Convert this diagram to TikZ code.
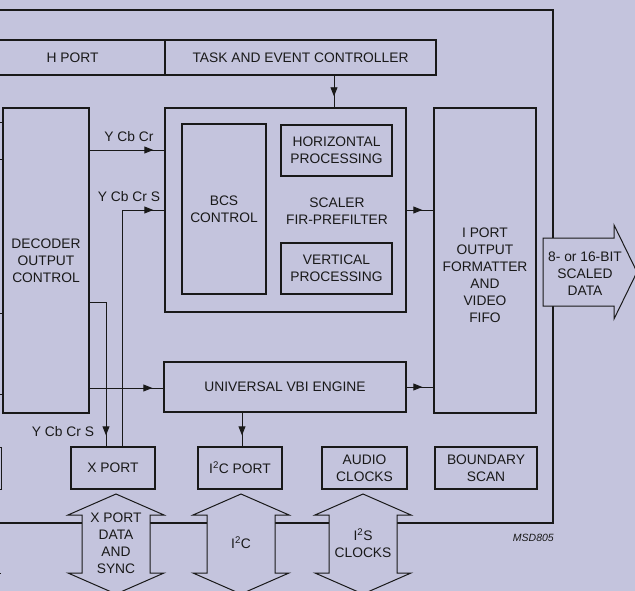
\documentclass[tikz,border=0pt]{standalone}
\usepackage{fontspec}
\setmainfont{Liberation Sans}
\usepackage{tikz}
\usetikzlibrary{arrows.meta,decorations.markings}
\definecolor{panel}{RGB}{196,196,221}
\definecolor{ink}{RGB}{25,25,25}
\tikzset{
	blk/.style={draw=ink, line width=1.4pt, fill=panel, inner sep=0pt, align=center, text=ink},
	wire/.style={draw=ink, line width=0.9pt},
	flow/.style={wire, postaction={decorate}, decoration={markings, mark=at position -11pt with {\arrow{Triangle[length=9pt,width=7pt]}}}},
	bus/.style={draw=ink, line width=1pt, fill=panel},
	txt/.style={align=center, text=ink, inner sep=0pt},
}
\begin{document}
\begin{tikzpicture}[x=1pt, y=-1pt, font=\fontsize{13.8}{17}\selectfont]
	%\draw[help lines, step=50] (0,0) grid (635,591);
	\useasboundingbox (0,0) rectangle (635,591);
	\fill[panel] (0,0) rectangle (635,591);
	\clip (0,0) rectangle (635,591);
	\draw[line width=1.4pt, draw=ink] (-5,10) -| (553,523) -- (-5,523);
	\draw[line width=1pt, draw=ink] (-60,447) rectangle (1,489);
	\draw[line width=1pt, draw=ink] (-20,573) -- (1,573);
	% top row
	\node[blk, minimum width=185, minimum height=35] (hport) at (72.5,57.5) {H PORT};
	\node[blk, minimum width=271, minimum height=35] (task) at (300.5,57.5) {TASK AND EVENT CONTROLLER};
	% middle
	\node[blk, minimum width=86, minimum height=305] (deco) at (46,260.5) {DECODER\\OUTPUT\\CONTROL};
	\node[blk, minimum width=241, minimum height=204] (scaler) at (285.5,210) {};
	\node[blk, minimum width=84, minimum height=170] (bcs) at (224,209) {BCS\\CONTROL};
	\node[blk, minimum width=111, minimum height=51] (horiz) at (336.5,150.5) {HORIZONTAL\\PROCESSING};
	\node[blk, minimum width=111, minimum height=51] (vert) at (336.5,268.5) {VERTICAL\\PROCESSING};
	\node[txt] (scalertxt) at (337,211) {SCALER\\FIR-PREFILTER};
	\node[blk, minimum width=102, minimum height=305] (iport) at (485,260.5) {};
	\node[txt] (iporttxt) at (485,275) {I PORT\\OUTPUT\\FORMATTER\\AND\\VIDEO\\FIFO};
	\node[blk, minimum width=242, minimum height=50] (vbi) at (285,387) {UNIVERSAL VBI ENGINE};
	% bottom row
	\node[blk, minimum width=84, minimum height=42] (xport) at (113,468) {X PORT};
	\node[blk, minimum width=84, minimum height=42] (i2cport) at (240,468) {I\textsuperscript{2}C PORT};
	\node[blk, minimum width=85, minimum height=42] (audio) at (364.5,468) {AUDIO\\CLOCKS};
	\node[blk, minimum width=102, minimum height=42] (bscan) at (486,468) {BOUNDARY\\SCAN};
	% connectors
	\foreach \yy in {122,159,313,394}
		\draw[wire] (deco.west |- 0,\yy) -- ++(-8,0);
	\coordinate (tc) at (334,0);
	\coordinate (ic) at (242,0);
	\coordinate (d1) at (106,302);
	\coordinate (u1) at (122,210);
	\draw[flow] (tc |- task.south) -- (tc |- scaler.north);
	\draw[flow] (deco.east |- 0,150) -- (scaler.west |- 0,150);
	\draw[flow] (scaler.east |- 0,210) -- (iport.west |- 0,210);
	\draw[flow] (deco.east |- 0,388) -- (vbi.west |- 0,388);
	\draw[flow] (vbi.east |- 0,387) -- (iport.west |- 0,387);
	\draw[flow] (ic |- vbi.south) -- (ic |- i2cport.north);
	\draw[flow] (deco.east |- d1) -| (xport.north -| d1);
	\draw[flow] (xport.north -| u1) |- (scaler.west |- u1);
	\node[txt] (ycc) at (129,136.5) {Y Cb Cr};
	\node[txt] (yccs) at (129,197) {Y Cb Cr S};
	\node[txt] (yccsx) at (63,431.5) {Y Cb Cr S};
	% buses
	\foreach \cx/\nm/\txt in {116/xbus/{X PORT\\DATA\\AND\\SYNC}, 241/ibus/{I\textsuperscript{2}C}, 363/sbus/{I\textsuperscript{2}S\\CLOCKS}}{
		\draw[bus] (\cx,494) -- ++(48,21) -- ++(-14,0) -- ++(0,58) -- ++(14,0) -- (\cx,594) -- ++(-48,-21) -- ++(14,0) -- ++(0,-58) -- ++(-14,0) -- cycle;
		\node[txt] (\nm) at (\cx,543) {\txt};
	}
	\draw[bus] (543,238) -- (614,238) -- (614,225) -- (637,272) -- (614,319) -- (614,306) -- (543,306) -- cycle;
	\node[txt] (outtxt) at (585,274) {8- or 16-BIT\\SCALED\\DATA};
	\node[txt, anchor=east, font=\fontsize{10.5}{12}\selectfont\itshape] (code) at (554,538) {MSD805};
\end{tikzpicture}
\end{document}
